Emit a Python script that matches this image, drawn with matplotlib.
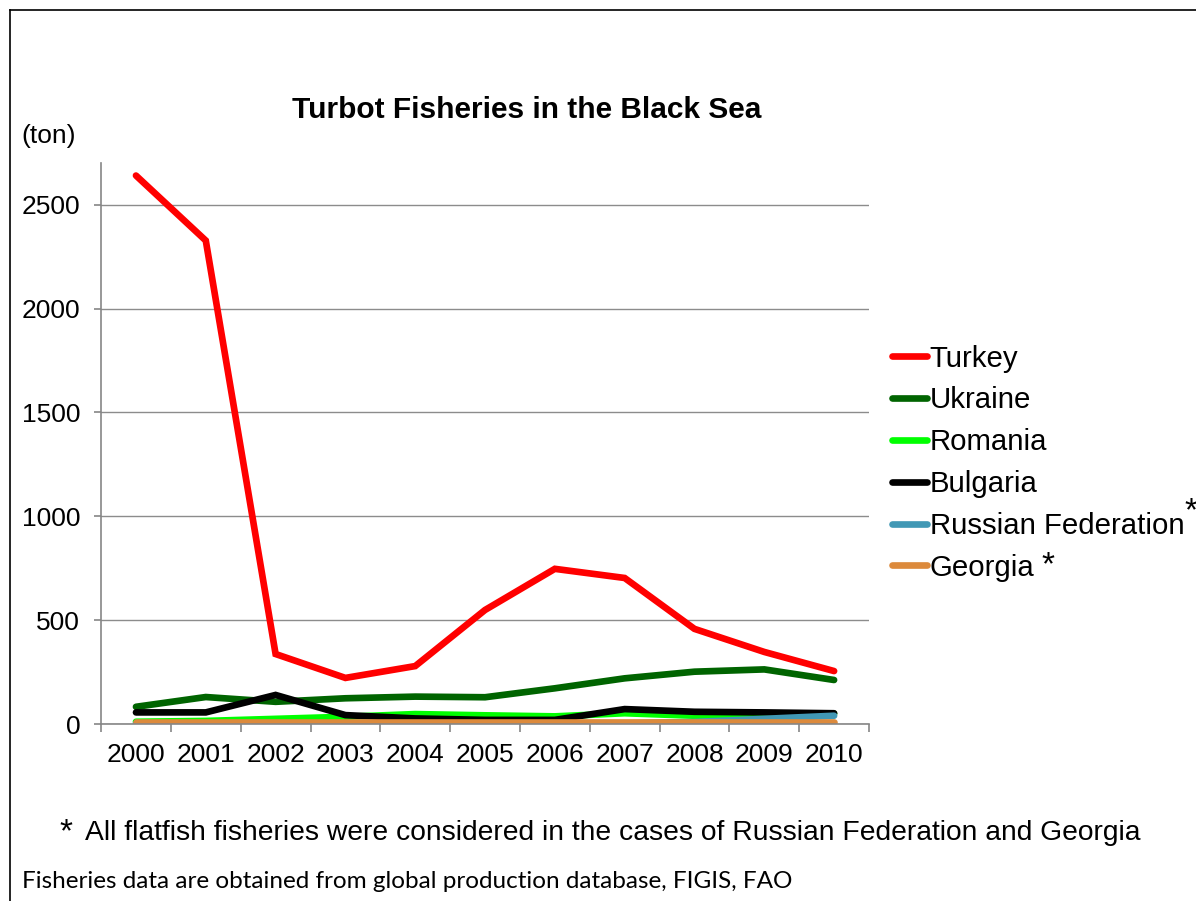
import matplotlib
matplotlib.use("Agg")
import matplotlib.pyplot as plt
from matplotlib.lines import Line2D

plt.rcParams["font.family"] = ["Liberation Sans", "DejaVu Sans"]

years = ["2000", "2001", "2002", "2003", "2004", "2005", "2006", "2007", "2008", "2009", "2010"]
turkey = [2640, 2327, 337, 222, 279, 549, 747, 703, 458, 347, 255]
ukraine = [83, 130, 107, 124, 132, 129, 172, 220, 252, 263, 212]
romania = [11, 15, 25, 35, 48, 42, 37, 52, 40, 45, 50]
bulgaria = [56, 56, 140, 43, 27, 20, 20, 72, 59, 56, 52]
russia = [3, 3, 3, 3, 3, 3, 3, 3, 10, 25, 40]
georgia = [8, 8, 8, 8, 8, 8, 8, 8, 8, 8, 8]

series = [("Turkey", turkey, "#ff0000"),
          ("Ukraine", ukraine, "#006400"),
          ("Romania", romania, "#00ff00"),
          ("Bulgaria", bulgaria, "#000000"),
          ("Russian Federation", russia, "#4198b5"),
          ("Georgia", georgia, "#dc8a3c")]

fig = plt.figure(figsize=(11.96, 9.01), dpi=100)
ax = fig.add_axes([0.0845, 0.1964, 0.6421, 0.6226])

x = list(range(len(years)))
for name, vals, col in series:
    ax.plot(x, vals, color=col, lw=4.8, label=name, solid_capstyle="round",
            solid_joinstyle="miter")

ax.set_xlim(-0.5, len(years) - 0.5)
ax.set_ylim(0, 2700)
ax.set_yticks([0, 500, 1000, 1500, 2000, 2500])
ax.set_xticks(x)
ax.set_xticklabels(years)
ax.set_xticks([i - 0.5 for i in range(len(years) + 1)], minor=True)
ax.tick_params(axis="x", which="major", length=0, labelsize=19, pad=14)
ax.tick_params(axis="x", which="minor", length=6, color="#868686", width=1.2)
ax.tick_params(axis="y", length=5, color="#868686", width=1.2, labelsize=19, pad=10)
ax.yaxis.grid(True, color="#8c8c8c", lw=1)
ax.set_axisbelow(True)
for s in ["top", "right"]:
    ax.spines[s].set_visible(False)
for s in ["left", "bottom"]:
    ax.spines[s].set_color("#868686")
    ax.spines[s].set_linewidth(1.2)

handles = [Line2D([], [], color=c, lw=4.8, solid_capstyle="round") for _, _, c in series]
leg = ax.legend(handles, [s[0] for s in series], loc="center left",
                bbox_to_anchor=(1.03, 0.465), frameon=False, fontsize=21.2,
                handlelength=1.2, handletextpad=0.08, labelspacing=0.47,
                borderpad=0, borderaxespad=0)

fig.text(0.9962, 1 - 512 / 901, "*", fontsize=24, ha="center", va="center")
fig.text(0.876, 1 - 566 / 901, "*", fontsize=24, ha="center", va="center")

fig.text(0.44, 1 - 110 / 901, "Turbot Fisheries in the Black Sea", fontsize=21.5,
         fontweight="bold", ha="center", va="center")
fig.text(0.018, 1 - 136 / 901, "(ton)", fontsize=19, ha="left", va="center")
fig.text(0.05, 0.076, "*", fontsize=24, ha="left", va="center")
fig.text(0.071, 0.076,
         "All flatfish fisheries were considered in the cases of Russian Federation and Georgia",
         fontsize=20.3, ha="left", va="center")
fig.text(0.018, 0.022, "Fisheries data are obtained from global production database, FIGIS, FAO",
         fontsize=17.5, ha="left", va="center", family=["Lato", "DejaVu Sans"])

fig.add_artist(Line2D([0.0085, 1.0], [0.989, 0.989], color="black", lw=1.2,
                      transform=fig.transFigure))
fig.add_artist(Line2D([0.0085, 0.0085], [0.0, 0.989], color="black", lw=1.2,
                      transform=fig.transFigure))

fig.savefig("out.png", dpi=100)
